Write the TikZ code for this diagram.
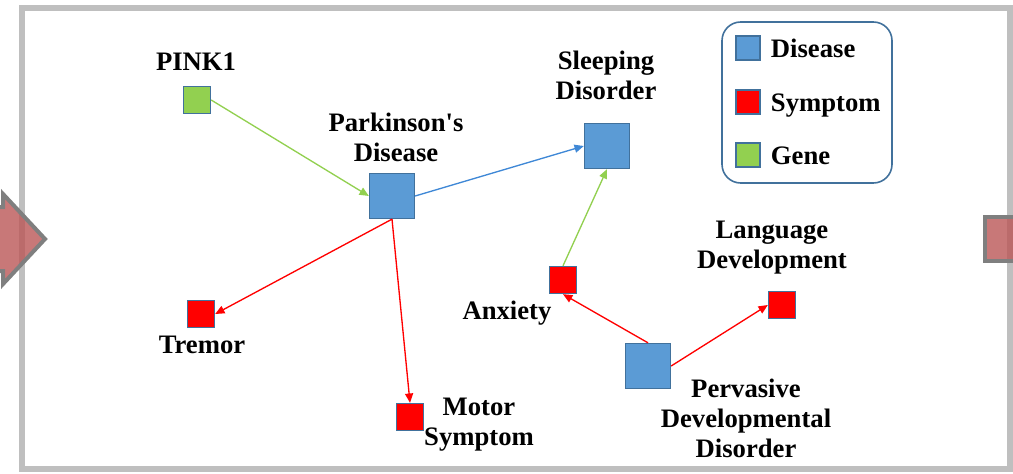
\documentclass[tikz,border=0pt]{standalone}
\usepackage{fontspec}
\setmainfont{Liberation Serif}
\usetikzlibrary{arrows.meta, positioning}
\definecolor{kgBlue}{HTML}{5B9BD5}
\definecolor{kgEdge}{HTML}{41719C}
\definecolor{kgRed}{HTML}{FF0000}
\definecolor{kgGreen}{HTML}{92D050}
\definecolor{kgLink}{HTML}{3F88D6}
\definecolor{kgFrame}{HTML}{BFBFBF}
\definecolor{kgNav}{HTML}{BA5656}
\definecolor{kgNavEdge}{HTML}{7F7F7F}
\tikzset{
  % squares coloured by entity type, outlined like the slide shapes
  disease/.style  = {draw=kgEdge, fill=kgBlue,  line width=1pt, minimum size=33.75pt, inner sep=0pt},
  symptom/.style  = {draw=kgEdge, fill=kgRed,   line width=1pt, minimum size=20.25pt, inner sep=0pt},
  gene/.style     = {draw=kgEdge, fill=kgGreen, line width=1pt, minimum size=20.25pt, inner sep=0pt},
  keybox/.style   = {draw=kgEdge, line width=1pt, minimum size=18pt, inner sep=0pt},
  lbl/.style      = {font=\bfseries\fontsize{20}{22.5}\selectfont, align=center, inner sep=0pt},
  keylbl/.style   = {lbl, text height=18pt, text depth=4pt},
  link/.style     = {line width=1pt, -{Triangle[length=7pt, width=6pt]}},
  navshape/.style = {fill=kgNav, fill opacity=0.8, draw=kgNavEdge, line width=3pt},
}

\begin{document}
\begin{tikzpicture}[x=0.75pt, y=-0.75pt]
  \useasboundingbox (0,0) rectangle (1013,474);
  \clip (0,0) rectangle (1013,474);
  % slide frame
  \draw[kgFrame, line width=4.5pt] (22,8) rectangle (1010,469);
  % navigation shapes, cut by the page edge
  \draw[navshape] (-60,207) -- (3,207) -- (3,194) -- (45,239) -- (3,284) -- (3,271) -- (-60,271) -- cycle;
  \draw[navshape] (985,217) rectangle (1060,261);
  % entities
  \node[gene]    (pink)    at (197,100) {};
  \node[disease] (pd)      at (392,196) {};
  \node[disease] (sleep)   at (607,146) {};
  \node[symptom] (anx)     at (563,280) {};
  \node[symptom] (tremor)  at (201,314) {};
  \node[symptom] (motor)   at (410,417) {};
  \node[disease] (pdd)     at (648,366) {};
  \node[symptom] (lang)    at (782,305) {};
  % labels
  \node[lbl] (pinkL)   at (196,62)  {PINK1};
  \node[lbl] (pdL)     at (396,137) {Parkinson\textquotesingle s\\Disease};
  \node[lbl] (sleepL)  at (606,75)  {Sleeping\\Disorder};
  \node[lbl] (anxL)    at (507,313) {Anxiety};
  \node[lbl] (tremorL) at (202,345) {Tremor};
  \node[lbl] (motorL)  at (479,425) {Motor\\Symptom};
  \node[lbl] (langL)   at (772,248) {Language\\Development};
  \node[lbl] (pddL)    at (746,418) {Pervasive\\Developmental\\Disorder};
  % relations
  \draw[link, kgGreen] (pink.east) -- (pd.west);
  \draw[link, kgLink]  (pd.east)   -- (sleep.west);
  \draw[link, kgRed]   (pd.south)  -- (tremor.east);
  \draw[link, kgRed]   (pd.south)  -- (motor.north);
  \draw[link, kgGreen] (anx.north) -- (sleep.south);
  \draw[link, kgRed]   (pdd.north) -- (anx.south);
  \draw[link, kgRed]   (pdd.east)  -- (lang.west);
  % legend
  \draw[kgEdge, line width=1.2pt, rounded corners=14pt] (722,22) rectangle (892,183);
  \node[keybox, fill=kgBlue]  (keyD) at (748,48)  {};
  \node[keybox, fill=kgRed]   (keyS) at (748,102) {};
  \node[keybox, fill=kgGreen] (keyG) at (748,155) {};
  \node[keylbl, right=7.5pt of keyD] (keyDL) {Disease};
  \node[keylbl, right=7.5pt of keyS] (keySL) {Symptom};
  \node[keylbl, right=7.5pt of keyG] (keyGL) {Gene};
\end{tikzpicture}
\end{document}
